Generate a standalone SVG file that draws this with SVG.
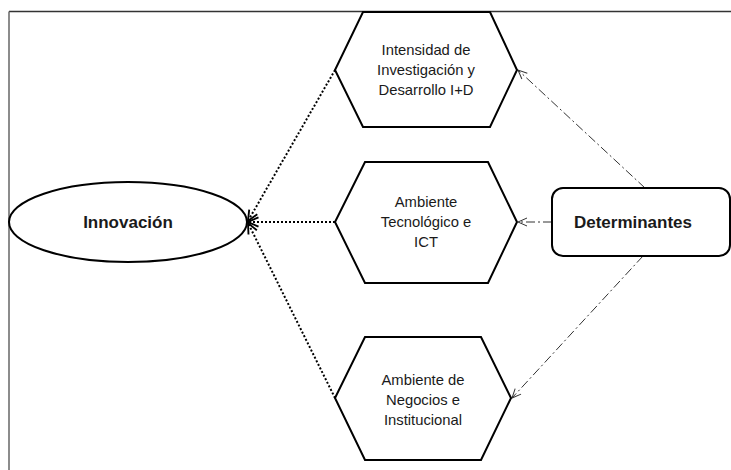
<svg xmlns="http://www.w3.org/2000/svg" width="731" height="470" viewBox="0 0 731 470">
<defs>
<style>
.shape{fill:#fff;stroke:#000;stroke-width:2}
.t{font-family:"Liberation Sans",Arial,sans-serif;font-size:14.8px;fill:#1a1a1a;text-anchor:middle}
.b{font-weight:bold;font-size:17px}
.dot{fill:none;stroke:#000;stroke-width:2;stroke-dasharray:2 2}
.dd{fill:none;stroke:#333;stroke-width:1;stroke-dasharray:9 3 2 3}
</style>
<marker id="ad" markerUnits="userSpaceOnUse" markerWidth="14" markerHeight="14" refX="10" refY="5" orient="auto" viewBox="0 0 12 10">
<path d="M1,1 L10,5 L1,9" fill="none" stroke="#000" stroke-width="1.6"/>
</marker>
<marker id="ao" markerUnits="userSpaceOnUse" markerWidth="12" markerHeight="12" refX="10" refY="5" orient="auto" viewBox="0 0 12 10">
<path d="M1,1 L10,5 L1,9" fill="none" stroke="#333" stroke-width="1"/>
</marker>
</defs>
<rect width="731" height="470" fill="#fff"/>
<g id="frame">
<line x1="9" y1="11.5" x2="731" y2="11.5" stroke="#333" stroke-width="1.5"/>
<line x1="9" y1="11.5" x2="9" y2="470" stroke="#666" stroke-width="1.5"/>
</g>
<g id="connectors">
<line class="dot" x1="335" y1="70" x2="248" y2="221" marker-end="url(#ad)"/>
<line class="dot" x1="335" y1="222" x2="248" y2="222" marker-end="url(#ad)"/>
<line class="dot" x1="335" y1="398" x2="248" y2="223" marker-end="url(#ad)"/>
<line class="dd" x1="645" y1="188" x2="518" y2="70" marker-end="url(#ao)"/>
<line class="dd" x1="552" y1="222" x2="518" y2="222" marker-end="url(#ao)"/>
<line class="dd" x1="643" y1="256" x2="512" y2="398" marker-end="url(#ao)"/>
</g>
<g id="innovacion">
<ellipse class="shape" cx="128" cy="222" rx="119" ry="40"/>
<text class="t b" x="128" y="228">Innovación</text>
</g>
<g id="hex-id">
<polygon class="shape" points="363,12 490,12 517,70 490,127 363,127 335,70"/>
<text class="t" x="426" y="55">Intensidad de</text>
<text class="t" x="426" y="75">Investigación y</text>
<text class="t" x="426" y="95">Desarrollo I+D</text>
</g>
<g id="hex-ict">
<polygon class="shape" points="365,162 488,162 517,222 488,283 365,283 335,222"/>
<text class="t" x="426" y="207">Ambiente</text>
<text class="t" x="426" y="227">Tecnológico e</text>
<text class="t" x="426" y="247">ICT</text>
</g>
<g id="hex-negocios">
<polygon class="shape" points="365,337 481,337 511,398 481,460 365,460 335,398"/>
<text class="t" x="423" y="385">Ambiente de</text>
<text class="t" x="423" y="405">Negocios e</text>
<text class="t" x="423" y="425">Institucional</text>
</g>
<g id="determinantes">
<rect class="shape" x="552" y="188" width="178" height="68" rx="11"/>
<text class="t b" x="633" y="228">Determinantes</text>
</g>
</svg>
